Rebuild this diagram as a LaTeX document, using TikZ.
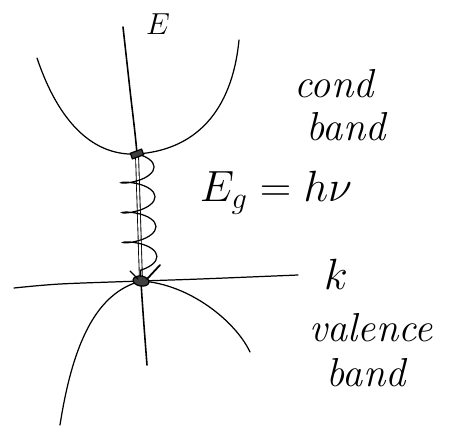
\documentclass[tikz,border=0pt]{standalone}
\usetikzlibrary{decorations.pathmorphing}
\begin{document}
\begin{tikzpicture}[x=0.02cm, y=-0.02cm, line width=0.7pt, line cap=round,
    handtext/.style={font=\itshape\fontsize{23}{23}\selectfont, inner sep=0pt},
    blob/.style={fill=black!75, draw=black}]
    \useasboundingbox (0,0) rectangle (456,433);
    % band edges
    \coordinate (cbmin) at (137,154);
    \coordinate (vbmax) at (141,281);

    % conduction band
    \draw (37,58) .. controls (62,132) and (100,156) .. (cbmin)
        .. controls (195,150) and (232,112) .. (239,40);
    % valence band
    \draw (60,425) .. controls (74,335) and (100,292) .. (vbmax)
        .. controls (190,284) and (236,322) .. (250,352);

    % axes
    \draw plot[smooth] coordinates {(14,288) (60,284) (vbmax) (200,279) (298,275)};
    \draw[line width=0.9pt] plot[smooth] coordinates {(123,27) (130,90) (cbmin) (140,220) (vbmax) (147,365)};
    \node (Elabel) at (158,24) {\fontsize{19}{19}\selectfont $E$};
    \node (klabel) at (336,274) {\fontsize{28}{28}\selectfont $k$};

    % photon across the gap
    \draw[double, double distance=1.2pt, line width=0.5pt] (cbmin) -- (vbmax);
    \draw[decorate, decoration={coil, aspect=0.35, amplitude=9.5pt, segment length=17pt}]
        (cbmin) -- (vbmax);
    \fill[blob, rotate around={20:(cbmin)}] ([shift={(-6,-3)}]cbmin) rectangle ([shift={(6,3)}]cbmin);
    \fill[blob, rotate around={-10:(vbmax)}] (vbmax) ellipse (8 and 5);
    \draw (130,271) -- ([shift={(-3,-2)}]vbmax);
    \draw[line width=1pt] (160,265) -- ([shift={(6,-2)}]vbmax);

    % labels
    \node[handtext] (cond) at (334,84) {cond};
    \node[handtext] (condband) at (346,127) {band};
    \node (gap) at (276,193) {\fontsize{24}{24}\selectfont $E_g = h\nu$};
    \node[handtext] (valence) at (371,328) {valence};
    \node[handtext] (valband) at (366,373) {band};
\end{tikzpicture}
\end{document}
